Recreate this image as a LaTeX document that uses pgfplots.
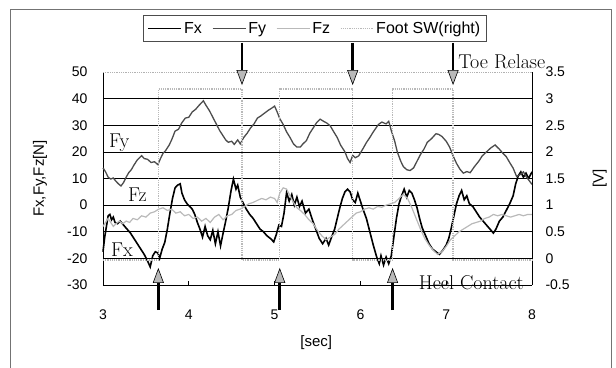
\documentclass[border=0pt]{standalone}
\usepackage{fontspec}
\newfontfamily\sansf{Liberation Sans}
\usepackage{pgfplots}
\pgfplotsset{compat=1.18}
\usetikzlibrary{arrows.meta}
\pgfplotstableread{
x y
3.00 -17.5
3.02 -12.0
3.04 -8.0
3.06 -4.0
3.08 -3.5
3.10 -5.5
3.12 -4.5
3.14 -6.5
3.17 -7.0
3.20 -6.0
3.24 -7.5
3.28 -9.0
3.32 -10.5
3.36 -12.5
3.40 -14.5
3.44 -16.5
3.48 -18.5
3.52 -21.0
3.55 -23.2
3.58 -19.0
3.61 -17.5
3.64 -18.0
3.66 -20.0
3.69 -16.5
3.72 -14.0
3.75 -9.0
3.78 -3.0
3.81 2.5
3.84 6.5
3.87 7.5
3.90 8.0
3.92 4.5
3.95 2.0
3.98 0.5
4.01 -0.5
4.04 -1.5
4.07 -3.5
4.10 -6.5
4.13 -9.0
4.16 -12.0
4.19 -8.0
4.22 -11.5
4.25 -13.0
4.28 -9.5
4.31 -14.5
4.34 -10.0
4.37 -15.3
4.40 -10.5
4.43 -6.0
4.46 -1.0
4.49 5.0
4.52 9.8
4.55 6.0
4.57 7.5
4.60 3.0
4.63 1.0
4.67 -1.5
4.71 -3.5
4.75 -5.0
4.79 -7.0
4.83 -9.0
4.87 -10.0
4.91 -11.5
4.95 -12.5
4.99 -13.8
5.02 -11.0
5.05 -7.5
5.08 -8.0
5.11 -3.0
5.14 4.8
5.17 1.5
5.20 4.0
5.23 0.0
5.26 3.0
5.29 -0.5
5.32 1.5
5.36 -3.0
5.40 -1.5
5.44 -5.5
5.48 -9.0
5.52 -12.5
5.56 -14.5
5.60 -12.5
5.63 -15.0
5.67 -11.5
5.70 -9.0
5.73 -5.0
5.76 -1.0
5.79 2.5
5.82 5.0
5.85 6.0
5.88 5.0
5.91 2.0
5.94 1.0
5.97 4.5
6.00 1.5
6.03 -1.5
6.07 -5.0
6.11 -10.0
6.15 -15.0
6.19 -19.5
6.22 -22.0
6.24 -19.0
6.27 -22.5
6.30 -19.5
6.33 -22.0
6.36 -19.0
6.39 -12.0
6.42 -5.0
6.45 0.5
6.48 3.5
6.51 6.0
6.54 3.0
6.57 5.5
6.60 4.5
6.63 2.0
6.66 -1.0
6.69 -5.0
6.72 -8.5
6.76 -11.5
6.80 -14.5
6.84 -16.5
6.88 -17.5
6.92 -18.5
6.96 -17.0
7.00 -15.0
7.03 -12.5
7.06 -8.5
7.09 -4.0
7.12 0.5
7.15 3.5
7.18 5.5
7.21 2.0
7.24 3.5
7.27 0.5
7.31 -0.5
7.35 -2.5
7.39 -4.5
7.43 -6.0
7.47 -7.5
7.51 -9.0
7.55 -10.5
7.58 -9.0
7.62 -6.0
7.66 -4.5
7.70 -2.0
7.74 0.5
7.78 3.5
7.81 8.0
7.84 11.0
7.87 12.5
7.90 10.5
7.93 12.0
7.96 10.0
8.00 12.5
}\fx
\pgfplotstableread{
x y
3.00 14.0
3.03 12.5
3.06 10.5
3.09 9.8
3.12 10.2
3.15 9.0
3.18 8.0
3.21 7.2
3.24 8.5
3.27 10.5
3.30 12.2
3.33 13.3
3.36 15.0
3.40 17.0
3.45 18.6
3.48 17.5
3.52 17.2
3.56 16.0
3.60 16.3
3.64 15.2
3.67 17.5
3.70 19.5
3.73 20.5
3.77 22.5
3.80 24.5
3.84 27.8
3.88 28.5
3.92 31.0
3.96 32.7
4.00 33.0
4.04 35.0
4.08 36.0
4.12 37.5
4.17 39.2
4.20 37.5
4.24 35.5
4.28 33.0
4.32 30.5
4.36 28.0
4.40 26.0
4.43 24.5
4.46 23.6
4.50 24.0
4.53 22.8
4.57 24.5
4.60 23.0
4.64 25.4
4.68 27.0
4.72 29.0
4.76 30.5
4.80 32.7
4.84 33.5
4.88 34.5
4.93 35.7
4.97 36.5
5.00 37.2
5.03 35.0
5.06 32.5
5.10 30.3
5.14 27.5
5.18 25.4
5.22 23.0
5.26 21.8
5.30 21.8
5.33 23.0
5.37 24.2
5.41 27.0
5.45 29.0
5.49 31.0
5.53 32.3
5.57 31.5
5.61 30.8
5.65 29.7
5.69 27.5
5.73 25.4
5.77 22.5
5.82 20.0
5.85 17.5
5.88 16.0
5.91 18.7
5.94 17.8
5.98 18.5
6.03 21.2
6.07 23.5
6.11 25.4
6.15 27.5
6.21 30.3
6.25 31.2
6.30 30.5
6.33 31.5
6.36 28.0
6.40 24.0
6.43 20.0
6.47 16.5
6.50 14.5
6.54 13.3
6.58 13.0
6.62 14.0
6.66 16.5
6.70 19.0
6.74 21.0
6.78 23.6
6.83 25.0
6.88 26.8
6.91 26.6
6.95 25.8
7.00 24.0
7.04 21.8
7.08 18.5
7.12 15.7
7.16 13.5
7.20 12.0
7.24 12.6
7.28 12.2
7.33 14.5
7.38 16.5
7.42 18.5
7.47 20.0
7.52 21.5
7.57 22.6
7.62 21.0
7.66 19.5
7.70 18.2
7.74 16.0
7.78 13.9
7.82 10.8
7.86 11.4
7.90 12.5
7.93 10.8
7.96 9.5
8.00 7.8
}\fy
\pgfplotstableread{
x y
3.00 -8.0
3.03 -6.5
3.06 -5.0
3.09 -6.5
3.12 -8.0
3.15 -7.0
3.19 -6.0
3.23 -7.0
3.27 -6.0
3.31 -6.5
3.35 -5.0
3.40 -5.5
3.45 -4.0
3.50 -4.5
3.55 -3.0
3.60 -2.5
3.65 -1.5
3.70 -1.0
3.75 -2.0
3.80 -1.5
3.85 -3.0
3.90 -2.5
3.95 -4.0
4.00 -3.5
4.05 -5.0
4.10 -4.5
4.15 -6.0
4.20 -5.0
4.25 -6.5
4.30 -4.5
4.35 -3.5
4.40 -5.5
4.45 -4.0
4.50 -3.5
4.55 -2.0
4.60 -1.5
4.65 -0.5
4.70 0.5
4.75 1.0
4.80 1.8
4.85 2.5
4.90 2.0
4.95 3.0
5.00 2.5
5.03 1.0
5.06 4.5
5.10 6.5
5.14 6.0
5.18 3.5
5.22 1.0
5.26 -1.0
5.30 -2.0
5.35 -3.5
5.40 -5.5
5.45 -7.0
5.50 -9.5
5.55 -11.5
5.60 -13.0
5.65 -12.0
5.70 -11.0
5.75 -9.0
5.80 -7.5
5.85 -6.0
5.90 -4.5
5.95 -3.0
6.00 -2.5
6.05 -1.5
6.10 -1.0
6.15 -1.5
6.20 -0.5
6.25 -0.8
6.30 0.0
6.35 0.5
6.40 1.0
6.45 2.5
6.50 4.0
6.55 2.5
6.60 -1.0
6.65 -5.0
6.70 -9.0
6.75 -12.5
6.80 -15.0
6.85 -17.0
6.90 -18.5
6.95 -17.5
7.00 -15.5
7.05 -13.0
7.10 -11.5
7.15 -10.0
7.20 -9.0
7.25 -8.0
7.30 -7.0
7.35 -6.5
7.40 -6.0
7.45 -5.0
7.50 -4.5
7.55 -3.5
7.60 -4.0
7.65 -3.5
7.70 -4.0
7.75 -4.5
7.80 -4.0
7.85 -3.5
7.90 -4.0
7.95 -3.5
8.00 -3.5
}\fz
\pgfplotstableread{
x y
3.000 -0.03
3.645 -0.03
3.645 3.18
4.620 3.18
4.620 -0.03
5.060 -0.03
5.060 3.18
5.910 3.18
5.910 -0.03
6.375 -0.03
6.375 3.18
7.080 3.18
7.080 -0.03
8.000 -0.03
}\sw
\tikzset{
 fxstyle/.style={black, line width=1.6pt},
 fystyle/.style={black!70, line width=1.3pt},
 fzstyle/.style={gray!55, line width=1.2pt},
 swstyle/.style={gray!55, line width=1.2pt, densely dotted},
 ann/.style={font=\fontsize{20}{22}\selectfont, inner sep=0pt},
 arr/.style={line width=2.6pt, -{Triangle[width=11pt,length=15pt,fill=gray!55,line width=0.6pt]}}
}
\begin{document}
\begin{tikzpicture}
\begin{axis}[
 name=a1,
 at={(103pt,82pt)}, anchor=south west, scale only axis,
 width=429pt, height=213pt,
 xmin=3, xmax=8, ymin=-30, ymax=50,
 axis x line*=bottom, axis y line*=left,
 axis line style={black, line width=0.8pt, -},
 xtick={3,4,5,6,7,8}, xtick align=inside, major tick length=4pt,
 xtick style={black, line width=0.6pt},
 ytick={-30,-20,-10,0,10,20,30,40,50}, ytick style={draw=none},
 extra y ticks={-20,-10,0,10,20,30,40}, extra y tick labels={},
 extra y tick style={grid=major, major tick length=0pt},
 grid style={black, line width=0.6pt},
 tick label style={font=\sansf\fontsize{14}{16}\selectfont},
 xticklabel style={yshift=-21pt},
 yticklabel style={xshift=-12pt},
 /pgf/number format/assume math mode=true,
 clip=false,
 xlabel={[sec]}, ylabel={Fx,Fy,Fz[N]},
 label style={font=\sansf\fontsize{15}{17}\selectfont},
 xlabel style={at={(axis description cs:0.497,-0.272)}, anchor=center},
 ylabel style={at={(axis description cs:-0.147,0.5)}, anchor=center},
 legend style={at={(axis description cs:0.494,1.205)}, anchor=center,
   legend columns=4, draw=black!70, line width=0.6pt,
   font=\sansf\fontsize{16}{18}\selectfont, inner sep=4pt,
   /tikz/every even column/.append style={column sep=8pt}},
 legend image code/.code={\draw[#1] (0pt,0pt) -- (33pt,0pt);},
]
\draw[gray!60, densely dotted, line width=0.8pt] (axis cs:3,50) -- (axis cs:8,50);
\addplot[fxstyle] table {\fx};
\addlegendentry{Fx}
\addplot[fystyle] table {\fy};
\addlegendentry{Fy}
\addplot[fzstyle] table {\fz};
\addlegendentry{Fz}
\addlegendimage{swstyle}
\addlegendentry{Foot SW(right)}
\node[ann] at (axis cs:3.19,23.3) {Fy};
\node[ann] at (axis cs:3.40,3.8) {Fz};
\node[ann] at (axis cs:3.22,-16.9) {Fx};
\node[ann, anchor=west] at (axis cs:7.14,53.8) {Toe Relase};
\node[ann, anchor=west] at (axis cs:6.68,-29.3) {Heel Contact};
\end{axis}
\begin{axis}[
 at={(103pt,82pt)}, anchor=south west, scale only axis,
 width=429pt, height=213pt,
 xmin=3, xmax=8, ymin=-0.5, ymax=3.5,
 axis y line*=right, axis x line=none,
 axis line style={black, line width=0.8pt, -},
 ytick={-0.5,0,0.5,1,1.5,2,2.5,3,3.5}, ytick style={draw=none},
 tick label style={font=\sansf\fontsize{14}{16}\selectfont},
 yticklabel style={xshift=10pt},
 /pgf/number format/assume math mode=true,
 clip=false,
 ylabel={[V]},
 label style={font=\sansf\fontsize{15}{17}\selectfont},
 ylabel style={at={(axis description cs:1.158,0.5)}, anchor=center, rotate=0},
]
\addplot[swstyle] table {\sw};
\draw[arr] (axis cs:4.62,4.045) -- (axis cs:4.62,3.255);
\draw[arr] (axis cs:5.91,4.045) -- (axis cs:5.91,3.255);
\draw[arr] (axis cs:7.08,4.045) -- (axis cs:7.08,3.255);
\draw[arr] (axis cs:3.645,-0.97) -- (axis cs:3.645,-0.18);
\draw[arr] (axis cs:5.06,-0.97) -- (axis cs:5.06,-0.18);
\draw[arr] (axis cs:6.375,-0.97) -- (axis cs:6.375,-0.18);
\end{axis}
\draw[black!55, line width=0.9pt] (10pt,-5pt) -- (10pt,358pt) -- (611pt,358pt) -- (611pt,-5pt);
\pgfresetboundingbox
\useasboundingbox (0pt,0pt) rectangle (616pt,367pt);
\end{tikzpicture}
\end{document}
